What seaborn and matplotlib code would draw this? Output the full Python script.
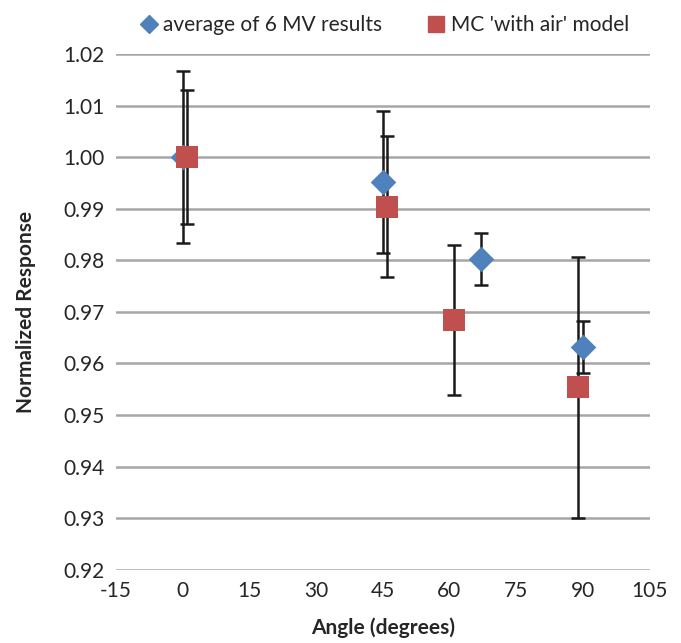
import numpy as np
import pandas as pd
import matplotlib
matplotlib.use("Agg")
import matplotlib.pyplot as plt
import seaborn as sns
from matplotlib.lines import Line2D

# Data
mv_angle = [0, 45, 67, 90]
mv_resp = [1.000, 0.9952, 0.9803, 0.9632]
mv_err = [0.0167, 0.0137, 0.0050, 0.0050]

mc_angle = [1, 46, 61, 89]
mc_resp = [1.000, 0.9904, 0.9684, 0.9554]
mc_err = [0.0130, 0.0137, 0.0146, 0.0253]

series_names = ["average of 6 MV results", "MC 'with air' model"]
xticks = [-15, 0, 15, 30, 45, 60, 75, 90, 105]
yticks = [0.92, 0.93, 0.94, 0.95, 0.96, 0.97, 0.98, 0.99, 1.00, 1.01, 1.02]

sns.set_theme(style="white")
plt.rcParams['font.family'] = ['Lato', 'DejaVu Sans']

mv = pd.DataFrame({"angle": mv_angle, "resp": mv_resp, "err": mv_err})
mc = pd.DataFrame({"angle": mc_angle, "resp": mc_resp, "err": mc_err})

fig = plt.figure(figsize=(6.81, 6.43), dpi=100)
ax = fig.add_axes([0.170, 0.114, 0.784, 0.802])

blue = "#4F81BD"
red = "#C0504D"

for d in (mv, mc):
    ax.errorbar(d["angle"], d["resp"], yerr=d["err"], fmt="none", ecolor="#1a1a1a",
                elinewidth=1.8, capsize=5, capthick=1.8, zorder=2)

sns.scatterplot(data=mv, x="angle", y="resp", marker="D", color=blue, s=170,
                linewidth=0, ax=ax, zorder=3, legend=False)
sns.scatterplot(data=mc, x="angle", y="resp", marker="s", color=red, s=260,
                linewidth=0, ax=ax, zorder=4, legend=False)

ax.set_xlim(-15, 105)
ax.set_ylim(0.92, 1.02)
ax.set_xticks(xticks)
ax.set_xticklabels([str(t) for t in xticks])
ax.set_yticks(yticks)
ax.set_yticklabels([f"{t:.2f}" for t in yticks])
ax.yaxis.grid(True, color="#A6A6A6", linewidth=1.8)
ax.xaxis.grid(False)
for s in ax.spines.values():
    s.set_visible(False)
ax.tick_params(axis="both", labelsize=15, length=0, pad=8)
ax.set_xlabel("Angle (degrees)", fontsize=15, fontweight="bold", labelpad=12)
ax.set_ylabel("Normalized Response", fontsize=15, fontweight="bold", labelpad=20)

handles = [Line2D([], [], marker="D", color=blue, linestyle="none", markersize=9),
           Line2D([], [], marker="s", color=red, linestyle="none", markersize=12)]
ax.legend(handles, series_names, loc="lower center", bbox_to_anchor=(0.5, 1.0), ncol=2,
          frameon=False, fontsize=15, handletextpad=0.1, columnspacing=2.0,
          handlelength=1.2)

fig.savefig("out.png", dpi=100)
